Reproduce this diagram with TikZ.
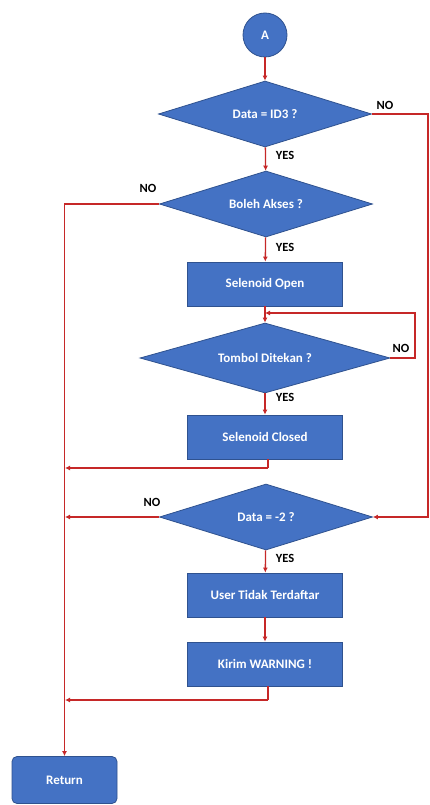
\documentclass[tikz,border=0pt]{standalone}
\usepackage{fontspec}
\setmainfont{Carlito}
\usetikzlibrary{shapes.geometric,arrows.meta}
\definecolor{fillblue}{HTML}{4472C4}
\definecolor{edgeblue}{HTML}{2F528F}
\definecolor{linered}{HTML}{C62828}
\tikzset{
  blk/.style={fill=fillblue,draw=edgeblue,line width=0.8pt,text=white,font=\bfseries\fontsize{13}{15}\selectfont,inner sep=0pt},
  proc/.style={blk,rectangle,minimum width=155pt,minimum height=44pt},
  dec/.style={blk,diamond,aspect=3.3,minimum width=213pt,minimum height=66pt},
  arr/.style={draw=linered,line width=1.3pt,-{Latex[length=5pt,width=5pt]}},
  ln/.style={draw=linered,line width=1.3pt},
  lbl/.style={font=\bfseries\fontsize{12.5}{14}\selectfont,text=black,inner sep=1pt}
}
\begin{document}
\begin{tikzpicture}[x=1pt,y=-1pt]
\useasboundingbox[fill=white] (0,0) rectangle (430,805);
\node[blk,circle,minimum size=44pt] (A) at (265,35) {A};
\node[dec] (d1) at (265,114) {Data = ID3 ?};
\node[dec] (d2) at (266,204) {Boleh Akses ?};
\node[proc] (open) at (265,284) {Selenoid Open};
\node[dec,aspect=3.6,minimum width=250pt,minimum height=70pt] (d4) at (265,358) {Tombol Ditekan ?};
\node[proc] (closed) at (265,437) {Selenoid Closed};
\node[dec] (d3) at (266,517) {Data = -2 ?};
\node[proc] (user) at (265,595) {User Tidak Terdaftar};
\node[proc] (kirim) at (265,664) {Kirim WARNING !};
\node[blk,rectangle,rounded corners=5pt,minimum width=105pt,minimum height=47pt] (ret) at (64.5,780) {Return};

\coordinate (rr) at (428,0);
\coordinate (lx) at (65,0);
\coordinate (fb) at (415,0);
\coordinate (m1) at (265,313);
\coordinate (c1) at (268,468);
\coordinate (c2) at (268,700);

\draw[arr] (A) -- (d1);
\draw[arr] (d1.east) -- (d1.east -| rr) |- (d3.east);
\draw[arr] (d1) -- (d2);
\draw[arr] (d2.west) -| (ret.north);
\draw[arr] (d2) -- (open);
\draw[arr] (open) -- (d4);
\draw[arr] (d4.east) -- (d4.east -| fb) |- (m1);
\draw[arr] (d4) -- (closed);
\draw[ln] (closed.south -| c1) -- (c1);
\draw[arr] (c1) -- (c1 -| lx);
\draw[arr] (d3.west) -- (d3.west -| lx);
\draw[arr] (d3) -- (user);
\draw[arr] (user) -- (kirim);
\draw[ln] (kirim.south -| c2) -- (c2);
\draw[arr] (c2) -- (c2 -| lx);

\node[lbl] at (385,105) {NO};
\node[lbl] at (285,155) {YES};
\node[lbl] at (148,188) {NO};
\node[lbl] at (285,247) {YES};
\node[lbl] at (401,348) {NO};
\node[lbl] at (285,397) {YES};
\node[lbl] at (152,502) {NO};
\node[lbl] at (285,558) {YES};
\end{tikzpicture}
\end{document}
